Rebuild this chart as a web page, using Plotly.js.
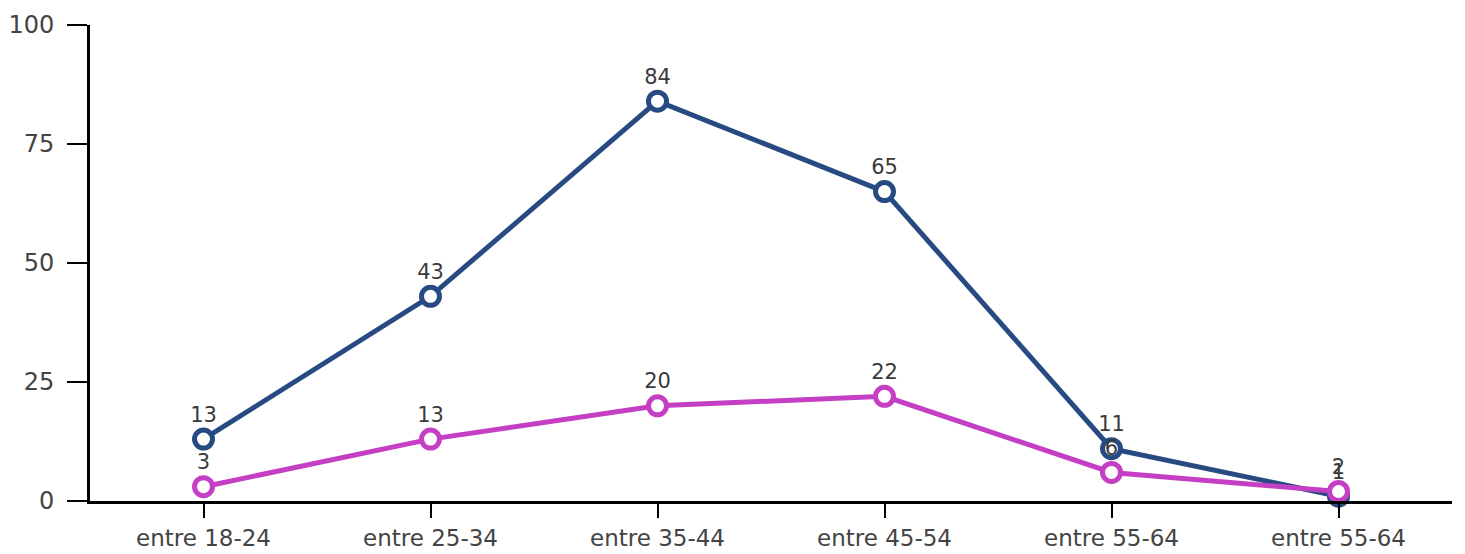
<!DOCTYPE html>
<html>
<head>
<meta charset="utf-8">
<script src="https://cdn.plot.ly/plotly-3.0.1.min.js"></script>
<style>html,body{margin:0;padding:0;background:#fff;}#chart{width:1465px;height:554px;}</style>
</head>
<body>
<div id="chart"></div>
<script>
const categories = ["entre 18-24", "entre 25-34", "entre 35-44", "entre 45-54", "entre 55-64", "entre 55-64"];
const seriesBlue = [13, 43, 84, 65, 11, 1];
const seriesMagenta = [3, 13, 20, 22, 6, 2];
const yTicks = [0, 25, 50, 75, 100];

const xPos = categories.map((c, i) => i);
const FONT = 'DejaVu Sans, sans-serif';

function trace(y, color) {
  return {
    x: xPos, y: y, type: 'scatter', mode: 'lines+markers+text',
    text: y.map(String), textposition: 'top center',
    textfont: {family: FONT, size: 21, color: '#3a3a3a'},
    line: {color: color, width: 5},
    marker: {symbol: 'circle', size: 18, color: '#ffffff', line: {color: color, width: 5}},
    cliponaxis: false, hoverinfo: 'skip', showlegend: false
  };
}

const data = [trace(seriesBlue, '#284a82'), trace(seriesMagenta, '#c53fc5')];

const layout = {
  width: 1465, height: 554,
  margin: {l: 90, r: 13, t: 25, b: 53, pad: 0},
  paper_bgcolor: '#ffffff', plot_bgcolor: '#ffffff',
  font: {family: FONT, size: 22, color: '#444'},
  xaxis: {
    range: [-0.5, 5.5], tickvals: xPos, ticktext: categories,
    showgrid: false, zeroline: false, showline: true, linecolor: '#000', linewidth: 3,
    ticks: 'outside', ticklen: 14, tickwidth: 2, tickcolor: '#000', ticklabelstandoff: 0,
    tickfont: {family: FONT, size: 23, color: '#444'}, fixedrange: true
  },
  yaxis: {
    range: [0, 100], tickvals: yTicks, ticktext: yTicks.map(String),
    showgrid: false, zeroline: false, showline: true, linecolor: '#000', linewidth: 3,
    ticks: 'outside', ticklen: 20, tickwidth: 2, tickcolor: '#000', ticklabelstandoff: 8,
    tickfont: {family: FONT, size: 24, color: '#444'}, fixedrange: true
  }
};

Plotly.newPlot('chart', data, layout, {displayModeBar: false, staticPlot: true});
</script>
</body>
</html>
